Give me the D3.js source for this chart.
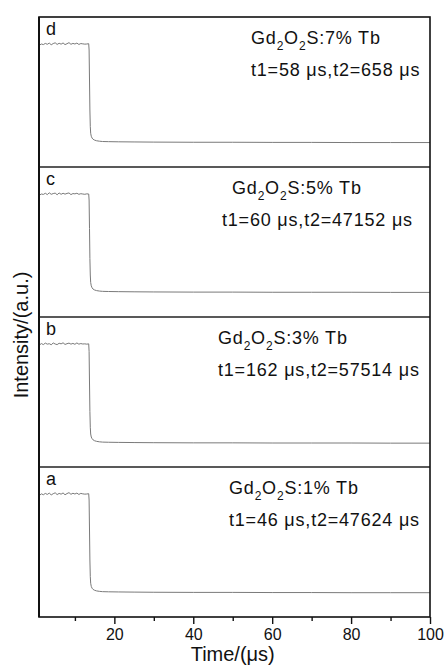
<!DOCTYPE html>
<html>
<head>
<meta charset="utf-8">
<script src="https://cdn.jsdelivr.net/npm/d3@7"></script>
<style>
  html, body { margin:0; padding:0; background:#fff; }
  svg text { font-family: "Liberation Sans", Arial, sans-serif; fill:#111; }
</style>
</head>
<body>
<div id="chart"></div>
<script>
// Daten
const panelLetters = ['a', 'b', 'c', 'd'];
const tbPercent    = [1, 3, 5, 7];
const t1Values     = [46, 162, 60, 58];
const t2Values     = [47624, 57514, 47152, 658];

const xTicks     = [20, 40, 60, 80, 100];
const xMinorTicks = [10, 30, 50, 70, 90];

// Zeitachse (µs)
const time = [
  1, 1.5, 2, 2.5, 3, 3.5, 4, 4.5, 5, 5.5, 6, 6.5, 7, 7.5, 8, 8.5, 9, 9.5,
  10, 10.5, 11, 11.5, 12, 12.5, 13, 13.5,
  13.6, 13.7, 13.8, 13.9, 14.0, 14.15, 14.35, 14.6, 15, 15.5, 16.2, 17, 18.5,
  21, 25, 30, 40, 50, 60, 70, 80, 90, 100
];

const intensityA = [
  81.0, 82.1, 81.5, 82.4, 81.7, 82.6, 81.4, 82.2, 82.8, 81.6, 82.4, 81.9, 82.7,
  81.5, 82.3, 82.9, 81.8, 82.5, 82.0, 82.6, 81.7, 82.4, 82.1, 81.9, 82.0, 82.2,
  78, 58, 38, 27, 22.5, 20.4, 19.2, 18.4, 17.8, 17.4, 17.1, 16.9, 16.8,
  16.7, 16.6, 16.5, 16.4, 16.4, 16.3, 16.3, 16.2, 16.2, 16.2
];
const intensityB = [
  81.3, 82.3, 81.6, 82.6, 81.9, 82.2, 81.5, 82.7, 82.0, 81.6, 82.5, 82.1, 82.8,
  81.7, 82.2, 82.6, 81.9, 82.4, 81.8, 82.7, 81.9, 82.3, 82.0, 82.1, 81.9, 82.1,
  77, 56, 37, 26.5, 22.0, 20.0, 18.9, 18.1, 17.5, 17.1, 16.8, 16.6, 16.5,
  16.4, 16.3, 16.2, 16.1, 16.1, 16.0, 16.0, 16.0, 15.9, 15.9
];
const intensityC = [
  81.2, 82.0, 81.7, 82.5, 81.6, 82.8, 81.8, 82.3, 82.6, 81.5, 82.7, 81.8, 82.5,
  81.9, 82.4, 82.7, 81.6, 82.3, 82.1, 82.5, 81.8, 82.2, 82.0, 81.8, 82.1, 82.0,
  78, 59, 39, 28, 23.0, 20.8, 19.5, 18.6, 18.0, 17.6, 17.3, 17.1, 17.0,
  16.9, 16.8, 16.7, 16.6, 16.6, 16.5, 16.5, 16.5, 16.4, 16.4
];
const intensityD = [
  81.2, 82.0, 81.6, 82.4, 81.8, 82.6, 81.5, 82.3, 82.8, 81.7, 82.5, 81.9, 82.7,
  81.6, 82.2, 82.9, 81.8, 82.4, 82.0, 82.6, 81.7, 82.3, 82.1, 81.9, 82.0, 82.2,
  78, 58, 38, 27, 22.5, 20.5, 19.3, 18.5, 17.9, 17.5, 17.2, 17.0, 16.9,
  16.8, 16.7, 16.6, 16.5, 16.5, 16.4, 16.4, 16.3, 16.3, 16.3
];
const intensities = [intensityA, intensityB, intensityC, intensityD];

// Layout
const W = 446, H = 666;
const plotL = 39, plotR = 430, plotT = 17, plotB = 617;
const panelH = (plotB - plotT) / panelLetters.length;
// Textpositionen der Beschriftung je Panel (px, a..d)
const labelX1 = [229, 218, 232, 251];
const labelX2 = [229, 218, 222, 251];

const svg = d3.select('#chart').append('svg')
  .attr('width', W).attr('height', H);

const x = d3.scaleLinear().domain([0.9, 100]).range([plotL, plotR]);

const line = d3.line()
  .x((d, i) => x(time[i]))
  .y(d => d);

panelLetters.forEach((letter, k) => {
  // a unten, d oben
  const top = plotB - (k + 1) * panelH;
  const y = d3.scaleLinear().domain([0, 100]).range([top + panelH, top]);

  svg.append('path')
    .datum(intensities[k].map(v => y(v)))
    .attr('d', line)
    .attr('fill', 'none')
    .attr('stroke', '#7a7a7a')
    .attr('stroke-width', 1);

  svg.append('text')
    .attr('x', 46).attr('y', top + 18)
    .attr('font-size', 18)
    .text(letter);

  const t1 = svg.append('text')
    .attr('x', labelX1[k]).attr('y', top + 27)
    .attr('font-size', 18)
    .attr('letter-spacing', 0.8);
  t1.append('tspan').text('Gd');
  t1.append('tspan').attr('font-size', 12).attr('dy', 6).text('2');
  t1.append('tspan').attr('dy', -6).text('O');
  t1.append('tspan').attr('font-size', 12).attr('dy', 6).text('2');
  t1.append('tspan').attr('dy', -6).text(`S:${tbPercent[k]}% Tb`);

  const t2 = svg.append('text')
    .attr('x', labelX2[k]).attr('y', top + 59)
    .attr('font-size', 18)
    .attr('letter-spacing', 0.8);
  t2.append('tspan').text(`t1=${t1Values[k]} `);
  t2.append('tspan').text('\u03bc');
  t2.append('tspan').text(`s,t2=${t2Values[k]} `);
  t2.append('tspan').text('\u03bc');
  t2.append('tspan').text('s');
});

// Trennlinien zwischen Panels
d3.range(1, panelLetters.length).forEach(i => {
  svg.append('line')
    .attr('x1', plotL).attr('x2', plotR)
    .attr('y1', plotT + i * panelH).attr('y2', plotT + i * panelH)
    .attr('stroke', '#222').attr('stroke-width', 1.5);
});

// Rahmen
svg.append('rect')
  .attr('x', plotL).attr('y', plotT)
  .attr('width', plotR - plotL).attr('height', plotB - plotT)
  .attr('fill', 'none').attr('stroke', '#111').attr('stroke-width', 1.6);
svg.append('line')
  .attr('x1', plotL).attr('x2', plotL).attr('y1', plotT).attr('y2', plotB)
  .attr('stroke', '#111').attr('stroke-width', 2);

// x-Achse
const xAxis = svg.append('g')
  .attr('transform', `translate(0,${plotB})`)
  .call(d3.axisBottom(x).tickValues(xTicks).tickSize(7).tickPadding(5)
    .tickFormat(d3.format('d')));
xAxis.select('.domain').remove();
xAxis.selectAll('line').attr('stroke', '#111').attr('stroke-width', 1.4);
xAxis.selectAll('text')
  .attr('font-size', 16)
  .attr('font-family', '"Liberation Sans", Arial, sans-serif')
  .attr('fill', '#111');

const xMinor = svg.append('g')
  .attr('transform', `translate(0,${plotB})`)
  .call(d3.axisBottom(x).tickValues(xMinorTicks).tickSize(4).tickFormat(''));
xMinor.select('.domain').remove();
xMinor.selectAll('line').attr('stroke', '#111').attr('stroke-width', 1.4);

// Achsentitel
const xt = svg.append('text')
  .attr('x', (x(40) + x(60)) / 2).attr('y', 661)
  .attr('text-anchor', 'middle')
  .attr('font-size', 20);
xt.append('tspan').text('Time/(');
xt.append('tspan').text('\u03bc');
xt.append('tspan').text('s)');

svg.append('text')
  .attr('transform', `translate(28,335) rotate(-90)`)
  .attr('text-anchor', 'middle')
  .attr('font-size', 20)
  .text('Intensity/(a.u.)');
</script>
</body>
</html>
